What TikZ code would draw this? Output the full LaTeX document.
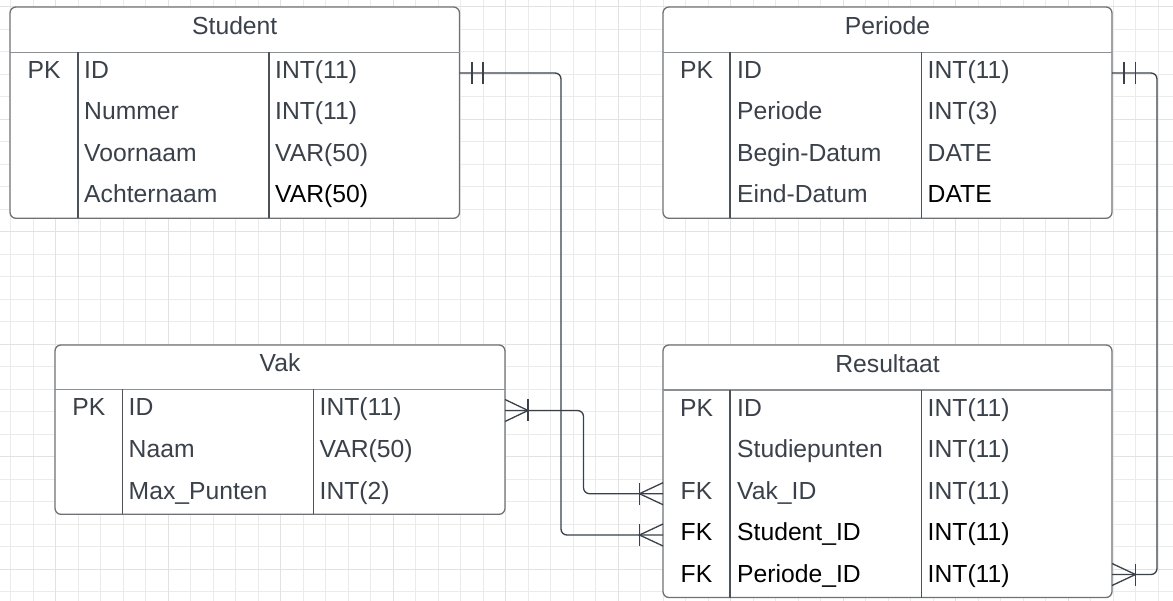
\documentclass[tikz,border=0pt]{standalone}
\usepackage{fontspec}
\setmainfont{Liberation Sans}
\usetikzlibrary{calc}
\definecolor{tgray}{HTML}{3A414A}
\definecolor{gminor}{HTML}{EBEBEB}
\definecolor{gmajor}{HTML}{E2E2E2}
\definecolor{bordc}{HTML}{6E7277}
\definecolor{headc}{HTML}{8C9095}
\definecolor{colc}{HTML}{4C5259}
\newcommand\erbox[7]{%
  \filldraw[tbox] (#1,#2) rectangle (#3,#4);
  \draw[hline] (#1,#5) -- (#3,#5);
  \draw[cline] (#6,#5) -- (#6,#4);
  \draw[cline] (#7,#5) -- (#7,#4);}
\begin{document}
\begin{tikzpicture}[x=1pt,y=-1pt,
  minor/.style={draw=gminor,line width=1pt},
  major/.style={draw=gmajor,line width=1.2pt},
  tbox/.style={draw=bordc,fill=white,line width=1.3pt,rounded corners=6pt},
  hline/.style={draw=headc,line width=1.3pt},
  cline/.style={draw=colc,line width=1.1pt},
  txt/.style={font=\fontsize{24.7}{29}\selectfont,text=tgray,inner sep=0pt,anchor=base west},
  ctxt/.style={txt,anchor=base},
  blk/.style={text=black},
  conn/.style={draw=tgray,line width=1.3pt,rounded corners=6pt},
  cfmark/.style={draw=tgray,line width=1.3pt}]
\fill[white] (0,0) rectangle (1173,601);
\useasboundingbox (0,0) rectangle (1173,601);
% grid
\foreach \i in {0,...,51} \draw[minor] ({10.7+22.5*\i},0) -- ++(0,601);
\foreach \j in {0,...,26} \draw[minor] (0,{6.7+22.5*\j}) -- ++(1173,0);
\foreach \i in {0,...,9} \draw[major] ({55.7+112.5*\i},0) -- ++(0,601);
\foreach \j in {0,...,5} \draw[major] (0,{6.7+112.5*\j}) -- ++(1173,0);

% ---------- Student ----------
\erbox{10}{7}{459.5}{218.3}{52.3}{78}{269}
\node[ctxt] (stuT) at (234.75,34.5) {Student};
\node[ctxt] (stuPK) at (44,78.3) {PK};
\node[txt] (stuA1) at (84,78.3) {ID};
\node[txt] (stuB1) at (275,78.3) {INT(11)};
\node[txt] (stuA2) at (84,119.8) {Nummer};
\node[txt] (stuB2) at (275,119.8) {INT(11)};
\node[txt] (stuA3) at (84,161.3) {Voornaam};
\node[txt] (stuB3) at (275,161.3) {VAR(50)};
\node[txt] (stuA4) at (84,202.8) {Achternaam};
\node[txt,blk] (stuB4) at (275,202.8) {VAR(50)};

% ---------- Periode ----------
\erbox{663}{7}{1112}{218.3}{52.3}{730}{921.5}
\node[ctxt] (perT) at (887.5,34.5) {Periode};
\node[ctxt] (perPK) at (696.5,78.3) {PK};
\node[txt] (perA1) at (737,78.3) {ID};
\node[txt] (perB1) at (927.5,78.3) {INT(11)};
\node[txt] (perA2) at (737,119.8) {Periode};
\node[txt] (perB2) at (927.5,119.8) {INT(3)};
\node[txt] (perA3) at (737,161.3) {Begin-Datum};
\node[txt] (perB3) at (927.5,161.3) {DATE};
\node[txt] (perA4) at (737,202.8) {Eind-Datum};
\node[txt,blk] (perB4) at (927.5,202.8) {DATE};

% ---------- Vak ----------
\erbox{55}{345}{505}{514.3}{389.5}{122.5}{313.5}
\node[ctxt] (vakT) at (280,372) {Vak};
\node[ctxt] (vakPK) at (88.75,415.8) {PK};
\node[txt] (vakA1) at (128.5,415.8) {ID};
\node[txt] (vakB1) at (319.5,415.8) {INT(11)};
\node[txt] (vakA2) at (128.5,457.4) {Naam};
\node[txt] (vakB2) at (319.5,457.4) {VAR(50)};
\node[txt] (vakA3) at (128.5,499) {Max\_Punten};
\node[txt] (vakB3) at (319.5,499) {INT(2)};

% ---------- Resultaat ----------
\erbox{663}{345}{1112}{597.5}{390}{730}{921.5}
\node[ctxt] (resT) at (887.5,372.5) {Resultaat};
\node[ctxt] (resPK) at (696.5,416.3) {PK};
\node[txt] (resA1) at (737,416.3) {ID};
\node[txt] (resB1) at (927.5,416.3) {INT(11)};
\node[txt] (resA2) at (737,457.8) {Studiepunten};
\node[txt] (resB2) at (927.5,457.8) {INT(11)};
\node[ctxt] (resFK3) at (696.5,499.3) {FK};
\node[txt] (resA3) at (737,499.3) {Vak\_ID};
\node[txt] (resB3) at (927.5,499.3) {INT(11)};
\node[ctxt,blk] (resFK4) at (696.5,540.8) {FK};
\node[txt,blk] (resA4) at (737,540.8) {Student\_ID};
\node[txt,blk] (resB4) at (927.5,540.8) {INT(11)};
\node[ctxt,blk] (resFK5) at (696.5,582.3) {FK};
\node[txt,blk] (resA5) at (737,582.3) {Periode\_ID};
\node[txt,blk] (resB5) at (927.5,582.3) {INT(11)};

% ---------- attachment points ----------
\coordinate (stuR) at (459.5,73);
\coordinate (perR) at (1112,73);
\coordinate (vakR) at (505,410.5);
\coordinate (resVak) at (663,493.7);
\coordinate (resStu) at (663,535);
\coordinate (resPer) at (1112,574.5);

% ---------- connectors ----------
\draw[conn] (stuR) -- (561,73) -- (561,535) -- (resStu);
\draw[conn] (vakR) -- (583.5,410.5) -- (583.5,493.7) -- (resVak);
\draw[conn] (perR) -- (1157,73) -- (1157,574.5) -- (resPer);

% one-and-only-one marks
\draw[cfmark] ($(stuR)+(12.5,-11)$) -- ++(0,22);
\draw[cfmark] ($(stuR)+(23.5,-11)$) -- ++(0,22);
\draw[cfmark] ($(perR)+(12,-11)$) -- ++(0,22);
\draw[cfmark] ($(perR)+(23.5,-11)$) -- ++(0,22);

% one-or-many marks
\draw[cfmark] ($(vakR)+(0,-11)$) -- ($(vakR)+(23,0)$) -- ($(vakR)+(0,11)$);
\draw[cfmark] ($(vakR)+(23,-11)$) -- ++(0,22);
\draw[cfmark] ($(resVak)+(0,-11)$) -- ($(resVak)+(-23.5,0)$) -- ($(resVak)+(0,11)$);
\draw[cfmark] ($(resVak)+(-23.5,-11)$) -- ++(0,22);
\draw[cfmark] ($(resStu)+(0,-11)$) -- ($(resStu)+(-23.5,0)$) -- ($(resStu)+(0,11)$);
\draw[cfmark] ($(resStu)+(-23.5,-11)$) -- ++(0,22);
\draw[cfmark] ($(resPer)+(0,-11)$) -- ($(resPer)+(23.5,0)$) -- ($(resPer)+(0,11)$);
\draw[cfmark] ($(resPer)+(23.5,-11)$) -- ++(0,22);
\end{tikzpicture}
\end{document}
